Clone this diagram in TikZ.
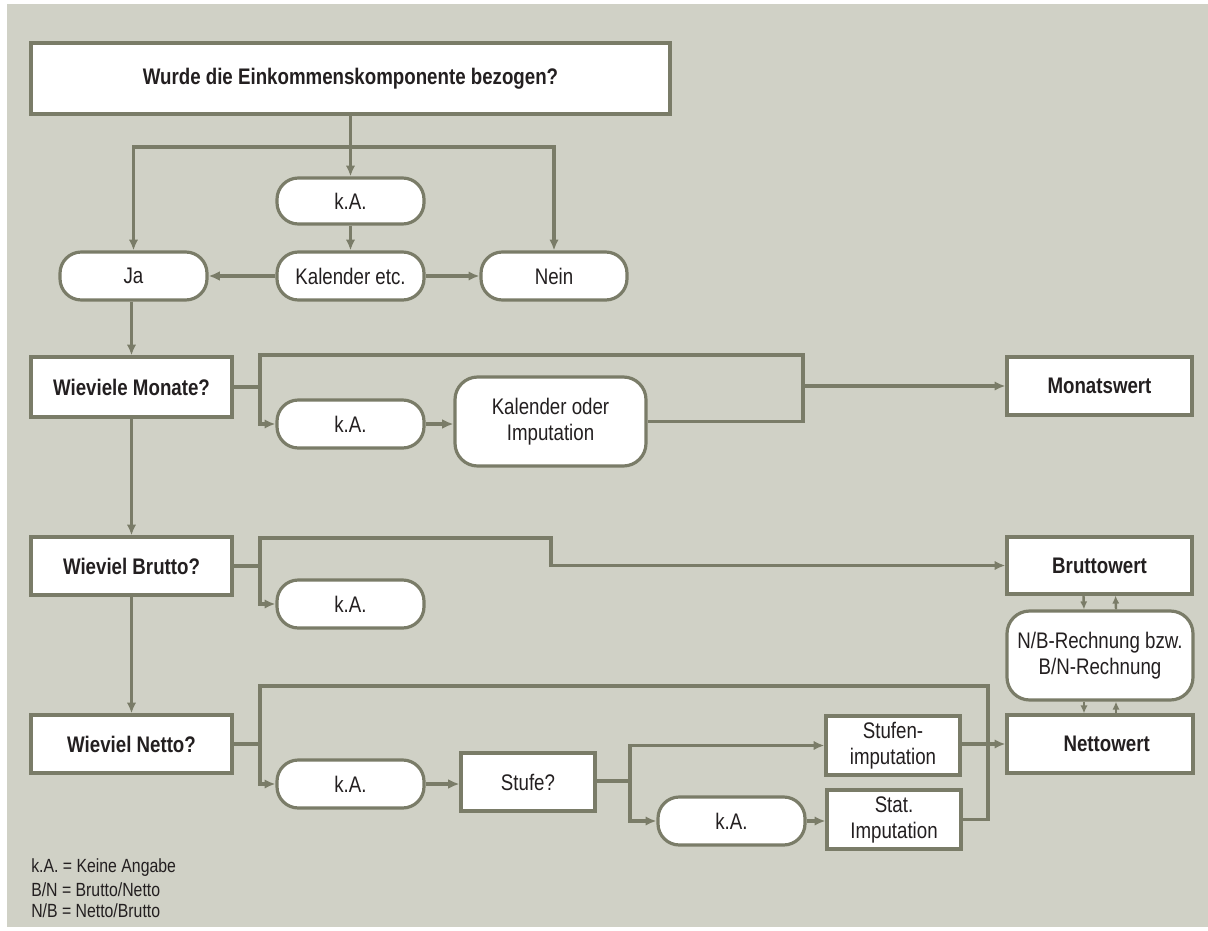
\documentclass[tikz,border=0pt]{standalone}
\usepackage{fontspec}
\setmainfont{Liberation Sans}[FakeStretch=0.83]
\usetikzlibrary{arrows.meta}
\definecolor{bg}{RGB}{208,209,198}
\definecolor{lc}{RGB}{122,124,104}
\definecolor{tc}{RGB}{35,31,32}
\newcommand\fs{\fontsize{16.9pt}{19.5pt}\selectfont}
\newcommand\lgfs{\fontsize{14.3pt}{16pt}\selectfont}
\tikzset{
  box/.style={draw=lc, line width=2.4pt, fill=white, inner sep=0pt, align=center, font=\fs, text=tc},
  sq/.style={box},
  bsq/.style={box, font=\fs\bfseries},
  pill/.style={box, rounded corners=16pt, minimum width=110.25pt, minimum height=36pt},
  rbox/.style={box, rounded corners=17pt},
  conn/.style={draw=lc, line width=2.3pt},
  arr/.style={conn, -{Latex[length=8pt,width=7pt]}},
  tarr/.style={conn, line width=3.4pt, -{Latex[length=8.5pt,width=7.5pt]}},
  sarr/.style={conn, line width=1.8pt, -{Latex[length=6pt,width=5.5pt]}},
  legend/.style={anchor=west, inner sep=0pt, font=\lgfs, text=tc}
}
\begin{document}
\begin{tikzpicture}[x=0.75pt,y=-0.75pt]
\useasboundingbox (0,0) rectangle (1208,931);
\fill[white] (0,0) rectangle (1208,931);
\fill[bg] (7,4) rectangle (1208,927);

% nodes
\node[bsq, minimum width=479.25pt, minimum height=53.25pt] (top) at (350.5,78.5) {Wurde die Einkommenskomponente bezogen?};
\node[pill, minimum height=34.5pt] (ka1) at (350.5,201) {k.A.};
\node[pill] (kal) at (350.5,276) {Kalender etc.};
\node[pill] (ja) at (133.5,276) {Ja};
\node[pill, minimum width=109.5pt] (nein) at (554,276) {Nein};

\node[bsq, minimum width=150.75pt, minimum height=45pt] (monate) at (131.5,387) {Wieviele Monate?};
\node[pill] (ka2) at (350.5,424) {k.A.};
\node[rbox, minimum width=143.25pt, minimum height=66.75pt] (kalimp) at (550.5,421.5) {Kalender oder\\Imputation};
\node[bsq, minimum width=138.75pt, minimum height=43.5pt] (monatswert) at (1099.5,386) {Monatswert};

\node[bsq, minimum width=150.75pt, minimum height=43.5pt] (brutto) at (131.5,566) {Wieviel Brutto?};
\node[pill] (ka3) at (350.5,604) {k.A.};
\node[bsq, minimum width=138.75pt, minimum height=42.75pt] (bruttowert) at (1099.5,565.5) {Bruttowert};
\node[rbox, minimum width=139.5pt, minimum height=66.75pt] (nb) at (1100,655.5) {N/B-Rechnung bzw.\\B/N-Rechnung};
\node[bsq, minimum width=139.5pt, minimum height=43.5pt] (nettowert) at (1100,744) {\hspace*{10pt}Nettowert};

\node[bsq, minimum width=150.75pt, minimum height=43.5pt] (netto) at (131.5,744) {Wieviel Netto?};
\node[pill] (ka4) at (350.5,784) {k.A.};
\node[sq, minimum width=100.5pt, minimum height=43.5pt] (stufe) at (528,782) {Stufe?};
\node[sq, minimum width=100.5pt, minimum height=44.25pt] (stufenimp) at (893,745.5) {Stufen-\\imputation};
\node[pill] (ka5) at (731.5,821) {k.A.};
\node[sq, minimum width=100.5pt, minimum height=44.25pt] (statimp) at (894,819.5) {Stat.\\Imputation};

% legend
\node[legend] (lg1) at (31,868) {k.A. = Keine Angabe};
\node[legend] (lg2) at (31,889.5) {B/N = Brutto/Netto};
\node[legend] (lg3) at (31,911) {N/B = Netto/Brutto};

% junction coordinates
\coordinate (j1) at (350.5,147);
\coordinate (m1) at (260,387);
\coordinate (mt) at (803,355);
\coordinate (m2) at (803,386);
\coordinate (b1) at (260,566);
\coordinate (bt) at (551,538);
\coordinate (n1) at (260,744);
\coordinate (nt) at (988,686);
\coordinate (s1) at (630,781);

% top part
\draw[arr] (top.south) -- (ka1.north);
\draw[arr] (j1) -| (ja.north);
\draw[arr] (j1) -| (nein.north);
\draw[arr] (ka1.south) -- (kal.north);
\draw[tarr] (kal.west) -- (ja.east);
\draw[arr] (kal.east) -- (nein.west);
\draw[arr] (ja.south -| monate.north) -- (monate.north);

% Monate row
\draw[conn] (monate.east) -- (m1);
\draw[arr] (m1) |- (ka2.west);
\draw[conn] (m1) |- (mt) -- (mt |- kalimp.east) -- (kalimp.east);
\draw[tarr] (ka2.east) -- (ka2.east -| kalimp.west);
\draw[arr] (m2) -- (monatswert.west);
\draw[arr] (monate.south) -- (brutto.north);

% Brutto row
\draw[conn] (brutto.east) -- (b1);
\draw[arr] (b1) |- (ka3.west);
\draw[arr] (b1) |- (bt) |- (bruttowert.west);
\draw[arr] (brutto.south) -- (netto.north);

% N/B conversion
\draw[sarr] ([xshift=-12pt]bruttowert.south) -- ([xshift=-12pt]nb.north);
\draw[sarr] ([xshift=12pt]nb.north) -- ([xshift=12pt]bruttowert.south);
\draw[sarr] ([xshift=-12pt]nb.south) -- ([xshift=-12pt]nettowert.north);
\draw[sarr] ([xshift=12pt]nettowert.north) -- ([xshift=12pt]nb.south);

% Netto row
\draw[conn] (netto.east) -- (n1);
\draw[arr] (n1) |- (ka4.west);
\draw[conn] (n1) |- (nt) |- (statimp.east);
\draw[tarr] (ka4.east) -- (ka4.east -| stufe.west);
\draw[conn, line width=3.4pt] (stufe.east |- s1) -- (s1);
\draw[arr] (s1) |- (stufenimp.west);
\draw[arr] (s1) |- (ka5.west);
\draw[arr] (ka5.east) -- (ka5.east -| statimp.west);
\draw[arr] (nettowert.west -| stufenimp.east) -- (nettowert.west);
\end{tikzpicture}
\end{document}
